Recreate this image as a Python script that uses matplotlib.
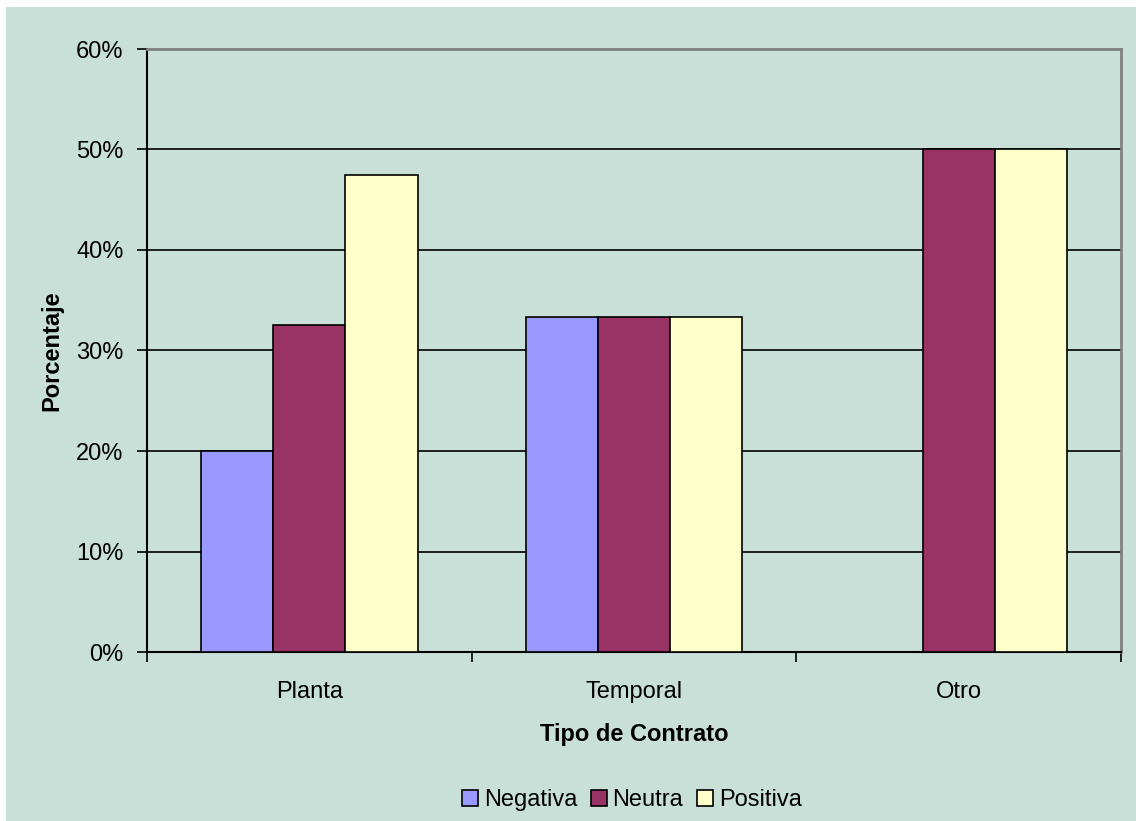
import matplotlib
matplotlib.use("Agg")
import matplotlib.pyplot as plt
import numpy as np
from matplotlib.patches import Rectangle

categories = ["Planta", "Temporal", "Otro"]
series_names = ["Negativa", "Neutra", "Positiva"]
negativa = [0.20, 0.333, 0.0]
neutra = [0.325, 0.333, 0.50]
positiva = [0.475, 0.333, 0.50]
y_ticks = [0.0, 0.1, 0.2, 0.3, 0.4, 0.5, 0.6]
y_labels = ["0%", "10%", "20%", "30%", "40%", "50%", "60%"]

colors = ["#9999FF", "#993366", "#FFFFCC"]
bg = "#C9E0D9"

plt.rcParams['font.family'] = ['Liberation Sans', 'DejaVu Sans']
fs = 17

W, H = 1136, 821
fig = plt.figure(figsize=(W / 100, H / 100), dpi=100, facecolor="white")
# chart area background (white strip on top and left like the source)
fig.patches.append(Rectangle((6 / W, 0), 1 - 6 / W, 1 - 7 / H,
                             transform=fig.transFigure, facecolor=bg,
                             edgecolor="none", zorder=-10))

ax = fig.add_axes([147 / W, (H - 652) / H, (1121 - 147) / W, (652 - 49) / H])
ax.set_facecolor(bg)

x = np.arange(len(categories))
bw = 1 / 4.5  # gap width 50%
for i, (vals, name) in enumerate(zip([negativa, neutra, positiva], series_names)):
    ax.bar(x + (i - 1) * bw, vals, width=bw, color=colors[i], edgecolor="black",
           linewidth=1.2, label=name, zorder=3)

ax.set_xlim(-0.5, len(categories) - 0.5)
ax.set_ylim(0, 0.6)

# grid lines (black), the top one is the gray plot border
for t in y_ticks[1:-1]:
    ax.axhline(t, color="black", linewidth=1.2, zorder=1)

ax.set_yticks(y_ticks)
ax.set_yticklabels(y_labels, fontsize=fs)
ax.set_xticks(x)
ax.set_xticklabels(categories, fontsize=fs)
ax.set_xticks(np.arange(len(categories) + 1) - 0.5, minor=True)
ax.tick_params(axis="x", which="major", length=0, pad=21)
ax.tick_params(axis="x", which="minor", length=7, width=1.2, direction="out")
ax.tick_params(axis="y", length=7, width=1.2, direction="out", pad=10)

for side in ["left", "bottom"]:
    ax.spines[side].set_color("black")
    ax.spines[side].set_linewidth(1.5)
for side in ["top", "right"]:
    ax.spines[side].set_color("#808080")
    ax.spines[side].set_linewidth(2)

ax.set_xlabel("Tipo de Contrato", fontsize=fs, fontweight="bold", labelpad=14)
ax.set_ylabel("Porcentaje", fontsize=fs, fontweight="bold", labelpad=9)

fig.legend(loc="center", bbox_to_anchor=(632 / W, 1 - 800 / H), ncol=3,
           frameon=False, fontsize=fs, handlelength=0.65, handleheight=0.65,
           handletextpad=0.25, columnspacing=0.6)

fig.savefig("out.png", dpi=100, facecolor=fig.get_facecolor())
